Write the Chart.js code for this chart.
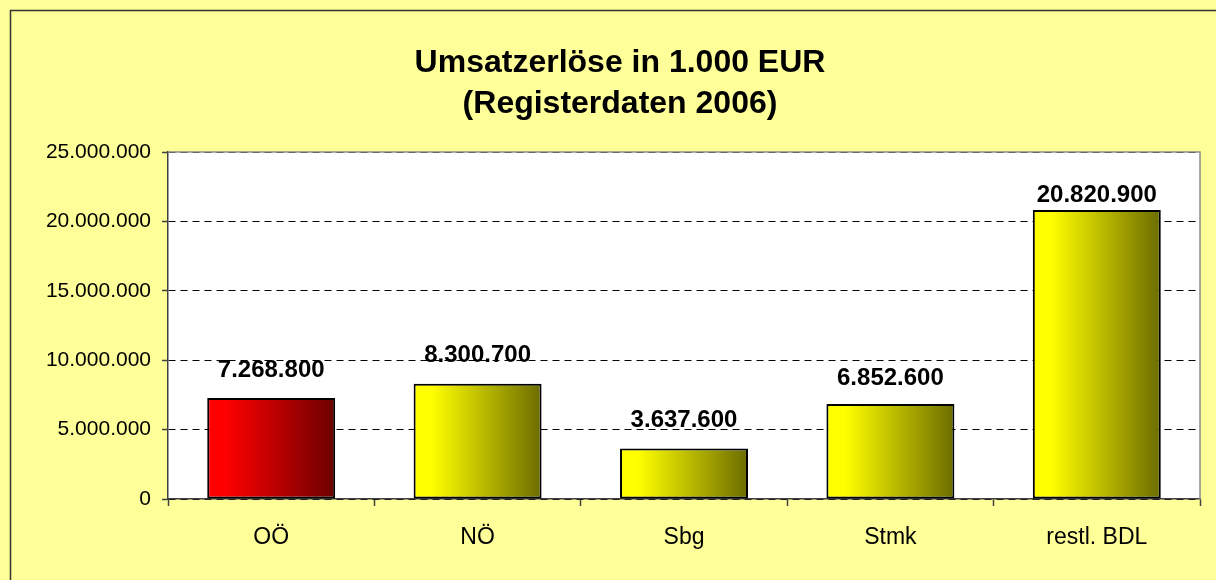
<!DOCTYPE html>
<html>
<head>
<meta charset="utf-8">
<script src="https://cdn.jsdelivr.net/npm/chart.js@4/dist/chart.umd.min.js"></script>
<style>
  html, body { margin: 0; padding: 0; background: #FFFF99; }
  #wrap { width: 1216px; height: 580px; }
</style>
</head>
<body>
<div id="wrap"><canvas id="c" width="1216" height="580"></canvas></div>
<script>
// ---- data ----
const categories = ['OÖ', 'NÖ', 'Sbg', 'Stmk', 'restl. BDL'];
const revenue = [7268800, 8300700, 3637600, 6852600, 20820900];
const titleLines = ['Umsatzerlöse in 1.000 EUR', '(Registerdaten 2006)'];
const yMin = 0;
const yMax = 25000000;
const yStep = 5000000;

// ---- style ----
const FONT = '"Liberation Sans", Arial, sans-serif';
const BAR_PCT = 0.62;
const HIGHLIGHT = 0;                       // index of the red bar
const RED = ['#FF0000', '#6C0000'];
const YELLOW = ['#FFFF00', '#6C6C00'];
const labelLift = [28, 28, 28, 26, 15];    // px between bar top and label centre

function fmt(v) {
  return String(Math.round(v)).replace(/\B(?=(\d{3})+(?!\d))/g, '.');
}

function barFill(ctx) {
  const chart = ctx.chart;
  const xs = chart.scales && chart.scales.x;
  const base = ctx.dataIndex === HIGHLIGHT ? RED : YELLOW;
  if (!xs || !xs.width || !chart.chartArea) return base[0];
  const cx = xs.getPixelForValue(ctx.dataIndex);
  const w = xs.width / categories.length * BAR_PCT;
  const g = chart.ctx.createLinearGradient(cx - w / 2, 0, cx + w / 2, 0);
  g.addColorStop(0, base[0]);
  g.addColorStop(0.14, base[0]);
  g.addColorStop(1, base[1]);
  return g;
}

const frame = {
  id: 'frame',
  beforeDraw(chart) {
    const c = chart.ctx, a = chart.chartArea;
    c.save();
    c.fillStyle = '#FFFF99';
    c.fillRect(0, 0, chart.width, chart.height);
    c.strokeStyle = '#333333';
    c.lineWidth = 1.5;
    c.strokeRect(10.5, 10.5, chart.width + 20, chart.height + 20);
    c.fillStyle = '#FFFFFF';
    c.fillRect(a.left, a.top, a.right - a.left, a.bottom - a.top);
    c.restore();
  },
  afterDraw(chart) {
    const c = chart.ctx, a = chart.chartArea;
    c.save();
    c.strokeStyle = '#8C8C8C';
    c.lineWidth = 1.5;
    c.beginPath();
    c.moveTo(a.left, a.top);
    c.lineTo(a.right, a.top);
    c.lineTo(a.right, a.bottom);
    c.stroke();
    c.restore();
  }
};

const valueLabels = {
  id: 'valueLabels',
  afterDatasetsDraw(chart) {
    const c = chart.ctx;
    const meta = chart.getDatasetMeta(0);
    c.save();
    c.font = 'bold 24px ' + FONT;
    c.fillStyle = '#000000';
    c.textAlign = 'center';
    c.textBaseline = 'middle';
    meta.data.forEach((bar, i) => {
      c.fillText(fmt(revenue[i]), bar.x, bar.y - labelLift[i]);
    });
    c.restore();
  }
};

new Chart(document.getElementById('c'), {
  type: 'bar',
  data: {
    labels: categories,
    datasets: [{
      data: revenue,
      backgroundColor: barFill,
      borderColor: '#000000',
      borderWidth: 2,
      borderSkipped: false,
      categoryPercentage: 1,
      barPercentage: BAR_PCT
    }]
  },
  options: {
    responsive: false,
    animation: false,
    devicePixelRatio: 1,
    layout: { padding: { left: 40, right: 16, top: 0, bottom: 0 } },
    plugins: {
      legend: { display: false },
      tooltip: { enabled: false },
      title: {
        display: true,
        text: titleLines,
        color: '#000000',
        font: { family: FONT, size: 32, weight: 'bold', lineHeight: 41 / 32 },
        padding: { top: 43, bottom: 27 }
      }
    },
    scales: {
      x: {
        offset: true,
        grid: {
          display: true,
          offset: true,
          drawOnChartArea: false,
          drawTicks: true,
          tickLength: 7,
          tickColor: '#404040',
          tickWidth: 1.5
        },
        border: { display: true, color: '#404040', width: 1.5 },
        ticks: {
          color: '#000000',
          font: { family: FONT, size: 23 },
          padding: 18,
          maxRotation: 0
        },
        afterFit(scale) { scale.height = 81; }
      },
      y: {
        min: yMin,
        max: yMax,
        ticks: {
          stepSize: yStep,
          color: '#000000',
          font: { family: FONT, size: 21 },
          padding: 11,
          callback: (v) => fmt(v)
        },
        grid: {
          color: '#000000',
          lineWidth: 1,
          drawTicks: true,
          tickLength: 6,
          tickColor: '#404040',
          tickWidth: 1.5,
          tickBorderDash: []
        },
        border: { display: true, color: '#404040', width: 1.5, dash: [7, 5] },
        afterFit(scale) { scale.width = 128; }
      }
    }
  },
  plugins: [frame, valueLabels]
});
</script>
</body>
</html>
